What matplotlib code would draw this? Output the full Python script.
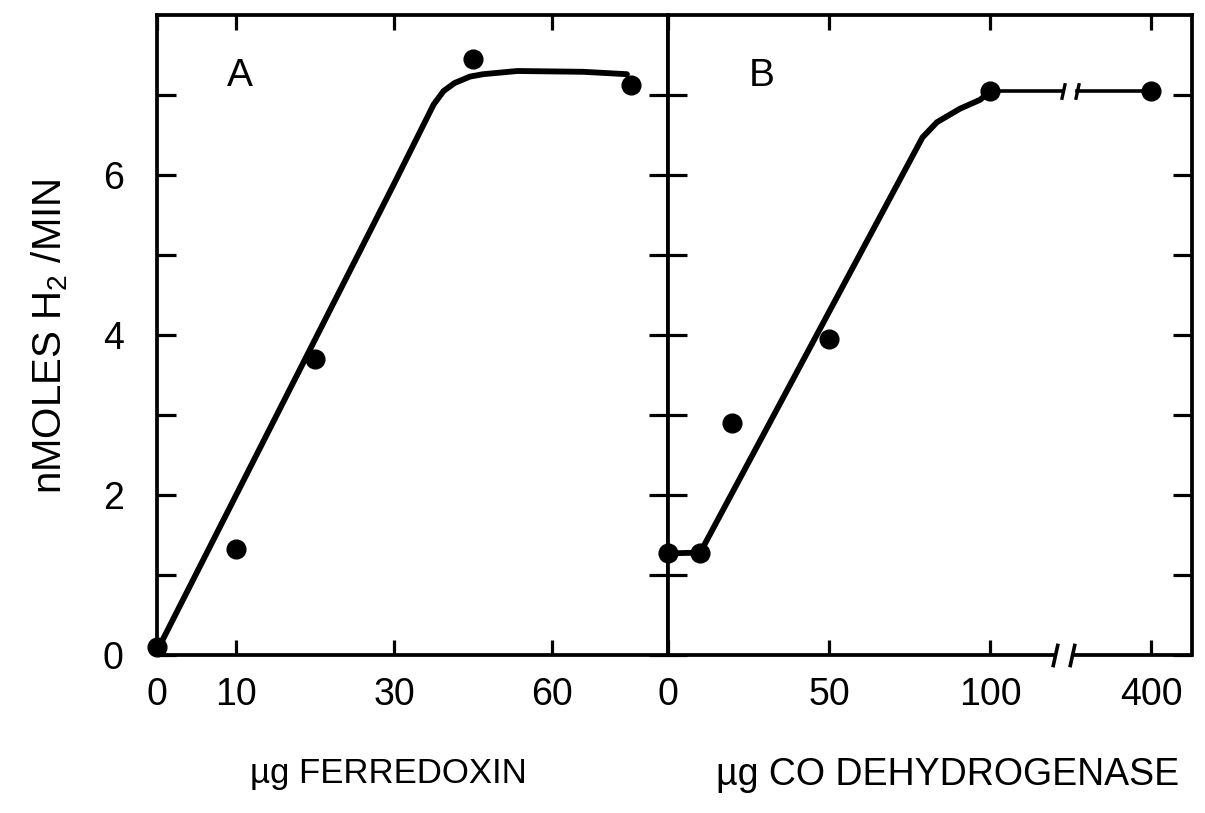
import numpy as np
import matplotlib
matplotlib.use("Agg")
import matplotlib.pyplot as plt
from matplotlib.path import Path

plt.rcParams['font.family'] = ['Liberation Sans', 'DejaVu Sans']
plt.rcParams['mathtext.fontset'] = 'custom'
plt.rcParams['mathtext.rm'] = 'Liberation Sans'
plt.rcParams['mathtext.default'] = 'rm'

# ---- Panel A: ferredoxin titration ----
ferredoxin_ug = [0, 10, 20, 45, 75]
rate_a = [0.1, 1.33, 3.7, 7.45, 7.12]
fit_a_x = [0, 30, 37.5, 39.4, 41.5, 44.4, 46.9, 53.4, 65.9, 74.2]
fit_a_y = [0.05, 5.89, 6.88, 7.05, 7.15, 7.23, 7.26, 7.30, 7.29, 7.26]
xticks_a = [0, 10, 30, 60]
xticklabels_a = ['0', '10', '30', '60']

# ---- Panel B: CO dehydrogenase titration ----
codh_ug = [0, 10, 20, 50, 100, 400]
rate_b = [1.27, 1.28, 2.9, 3.95, 7.05, 7.05]
fit_b_x = [0, 10, 79, 83.5, 90.7, 96.9, 100]
fit_b_y = [1.27, 1.28, 6.47, 6.66, 6.83, 6.94, 7.05]
plateau_b_x1 = [100, 236]
plateau_b_x2 = [262, 400]
plateau_b_y = [7.05, 7.05]
xticks_b = [0, 50, 100, 400]
xticklabels_b = ['0', '50', '100', '400']

yticks = [0, 1, 2, 3, 4, 5, 6, 7]
yticklabels = ['0', '', '2', '', '4', '', '6', '']


# piecewise-linear axes: the upper range of each panel is compressed
def fwd_a(x):
    x = np.asarray(x, dtype=float)
    return np.where(x <= 30, x, 30 + (x - 30) * 2.0 / 3.0)


def inv_a(p):
    p = np.asarray(p, dtype=float)
    return np.where(p <= 30, p, 30 + (p - 30) * 1.5)


def fwd_b(x):
    x = np.asarray(x, dtype=float)
    return np.where(x <= 100, x, 100 + (x - 100) / 6.0)


def inv_b(p):
    p = np.asarray(p, dtype=float)
    return np.where(p <= 100, p, 100 + (p - 100) * 6.0)


W, H = 1205, 813
fig = plt.figure(figsize=(W / 100, H / 100), dpi=100)
bottom, top = 655, 15
ax_a = fig.add_axes([157 / W, (H - bottom) / H, (668 - 157) / W, (bottom - top) / H])
ax_b = fig.add_axes([668 / W, (H - bottom) / H, (1192 - 668) / W, (bottom - top) / H])

SPINE_LW = 2.7
CURVE_LW = 4.2
MS = 13.5
TICK_FS = 27

for ax in (ax_a, ax_b):
    for s in ax.spines.values():
        s.set_linewidth(SPINE_LW)
    ax.set_ylim(0, 8.0)
    ax.set_yticks(yticks)
    ax.tick_params(axis='y', direction='in', left=True, right=True,
                   length=14, width=2.3, pad=24, labelsize=TICK_FS)
    ax.tick_params(axis='x', direction='in', bottom=True, top=True,
                   length=11, width=2.3, pad=16, labelsize=TICK_FS)

# Panel A
ax_a.set_xscale('function', functions=(fwd_a, inv_a))
ax_a.set_xlim(0, 82)
ax_a.set_xticks(xticks_a)
ax_a.set_xticklabels(xticklabels_a)
ax_a.set_yticklabels(yticklabels)
ax_a.plot(fit_a_x, fit_a_y, color='black', lw=CURVE_LW,
          solid_capstyle='round', solid_joinstyle='round', clip_on=False)
ax_a.plot(ferredoxin_ug, rate_a, 'o', color='black', ms=MS, clip_on=False)
ax_a.text(0.162, 0.905, 'A', transform=ax_a.transAxes, fontsize=28,
          ha='center', va='center')

# Panel B
ax_b.set_xscale('function', functions=(fwd_b, inv_b))
ax_b.set_xlim(0, 476)
ax_b.set_xticks(xticks_b)
ax_b.set_xticklabels(xticklabels_b)
ax_b.tick_params(axis='y', labelleft=False)

ax_b.plot(fit_b_x, fit_b_y, color='black', lw=CURVE_LW,
          solid_capstyle='round', solid_joinstyle='round', clip_on=False)
ax_b.plot(plateau_b_x1, plateau_b_y, color='black', lw=2.6)
ax_b.plot(plateau_b_x2, plateau_b_y, color='black', lw=2.6)
ax_b.plot(codh_ug, rate_b, 'o', color='black', ms=MS, clip_on=False)
ax_b.text(0.179, 0.905, 'B', transform=ax_b.transAxes, fontsize=28,
          ha='center', va='center')

# axis break: bottom spine drawn in two pieces with slanted marks
slash = Path([(-0.22, -1.0), (0.22, 1.0)], [Path.MOVETO, Path.LINETO])
ax_b.spines['bottom'].set_visible(False)
xt = ax_b.get_xaxis_transform()
ax_b.plot([0, 221], [0, 0], color='black', lw=SPINE_LW, transform=xt,
          clip_on=False, solid_capstyle='butt')
ax_b.plot([253, 476], [0, 0], color='black', lw=SPINE_LW, transform=xt,
          clip_on=False, solid_capstyle='butt')
ax_b.plot([221, 253], [0, 0], ls='none', marker=slash, ms=17, mew=2.6,
          color='black', transform=xt, clip_on=False)
# break marks on the plateau line
ax_b.plot([plateau_b_x1[1], plateau_b_x2[0]], plateau_b_y, ls='none',
          marker=slash, ms=12, mew=2.4, color='black')

fig.text(50 / W, (H - 336) / H, 'nMOLES H$_2$ /MIN', rotation=90,
         ha='center', va='center', fontsize=29)
fig.text(388 / W, (H - 773) / H, 'µg FERREDOXIN', ha='center', va='center',
         fontsize=25)
fig.text(948 / W, (H - 775) / H, 'µg CO DEHYDROGENASE', ha='center',
         va='center', fontsize=27)

fig.savefig('out.png', dpi=100, facecolor='white')
